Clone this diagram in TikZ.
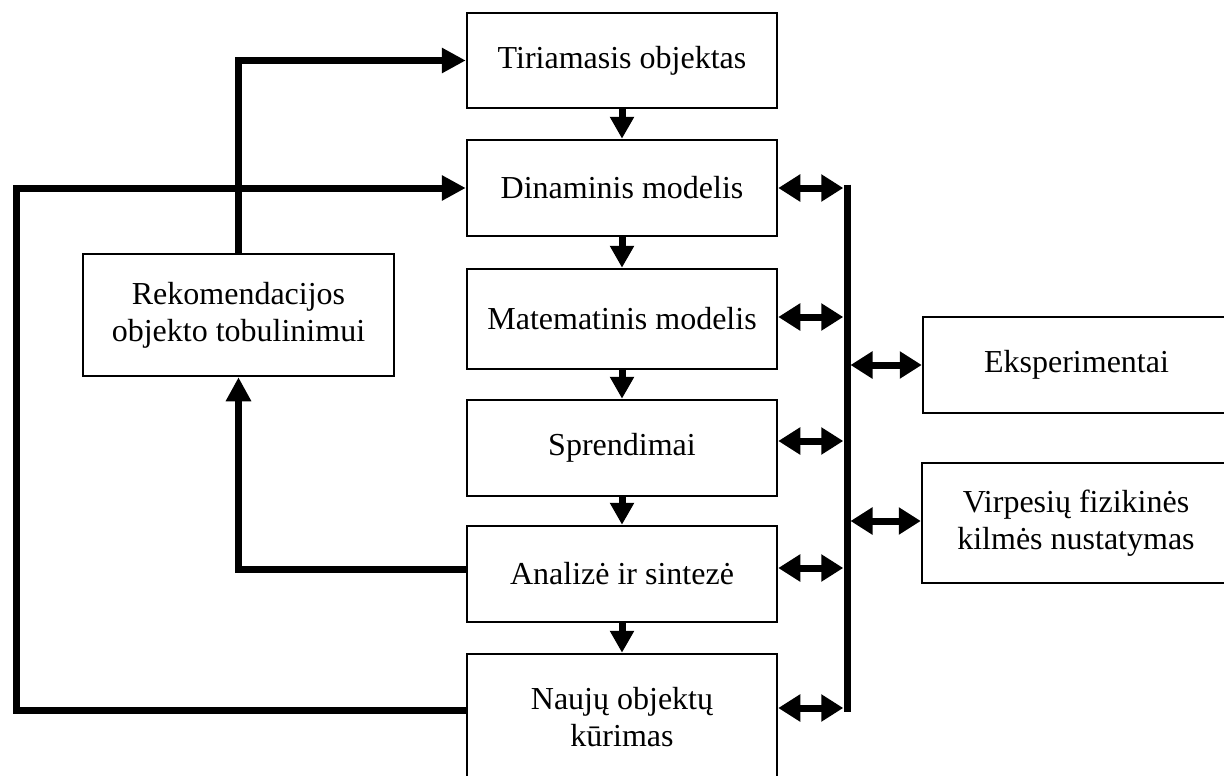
\documentclass[tikz,border=0pt]{standalone}
\usepackage{fontspec}
\setmainfont{Liberation Serif}
\usetikzlibrary{arrows.meta}
\begin{document}
\begin{tikzpicture}[x=1pt,y=-1pt,
  box/.style={draw, line width=2.5pt, minimum width=310pt, align=center,
    font=\fontsize{32}{37}\selectfont, inner sep=0pt},
  fat/.style={line width=7pt},
  arr/.style={fat, -{Triangle[width=24pt,length=24pt]}},
  downarr/.style={fat, -{Triangle[width=23pt,length=22pt]}},
  dbl/.style={fat, {Triangle[width=26pt,length=22pt]}-{Triangle[width=26pt,length=22pt]}}
]
\useasboundingbox (0,0) rectangle (1224,776);

% central column
\node[box, minimum height=95pt]  (T) at (622,60.5) {Tiriamasis objektas};
\node[box, minimum height=96pt]  (D) at (622,188)  {Dinaminis modelis};
\node[box, minimum height=100pt] (M) at (622,319)  {Matematinis modelis};
\node[box, minimum height=96pt]  (S) at (622,448)  {Sprendimai};
\node[box, minimum height=96pt]  (A) at (622,574)  {Analizė ir sintezė};
\node[box, minimum height=126pt] (N) at (622,717)  {Naujų objektų\\kūrimas};

% left box
\node[box, minimum width=311pt, minimum height=122pt] (R) at (238.5,315) {Rekomendacijos\\objekto tobulinimui};

% right boxes
\node[box, minimum width=307pt, minimum height=96pt]  (E) at (1076.5,365) {Eksperimentai};
\node[box, minimum width=308pt, minimum height=120pt] (V) at (1076,523)   {Virpesių fizikinės\\kilmės nustatymas};

% bus coordinates
\coordinate (busTop) at (847,184.5);
\coordinate (busBot) at (847,711.5);
\coordinate (busR) at (850.5,0);
\coordinate (lc) at (16,0);

% down arrows
\draw[downarr] (T.south) -- (D.north);
\draw[downarr] (D.south) -- (M.north);
\draw[downarr] (M.south) -- (S.north);
\draw[downarr] (S.south) -- (A.north);
\draw[downarr] (A.south) -- (N.north);

% bus
\draw[fat] (busTop) -- (busBot);

% double arrows to bus
\draw[dbl] (D.east) -- ++(65,0);
\draw[dbl] ([yshift=2pt]M.east) -- ++(65,0);
\draw[dbl] ([yshift=7pt]S.east) -- ++(65,0);
\draw[dbl] ([yshift=6pt]A.east) -- ++(65,0);
\draw[dbl] ([yshift=9pt]N.east) -- ++(65,0);

% bus to right boxes
\draw[dbl] (busR |- E.west) -- (E.west);
\draw[dbl] ([yshift=2pt]busR |- V.west) -- ([yshift=2pt]V.west);

% feedback loops
\draw[arr] (R.north) |- (T.west);
\draw[arr] ([yshift=5pt]A.west) -| (R.south);
\draw[arr] ([yshift=7pt]N.west) -| (lc |- D.west) -- (D.west);
\end{tikzpicture}
\end{document}
